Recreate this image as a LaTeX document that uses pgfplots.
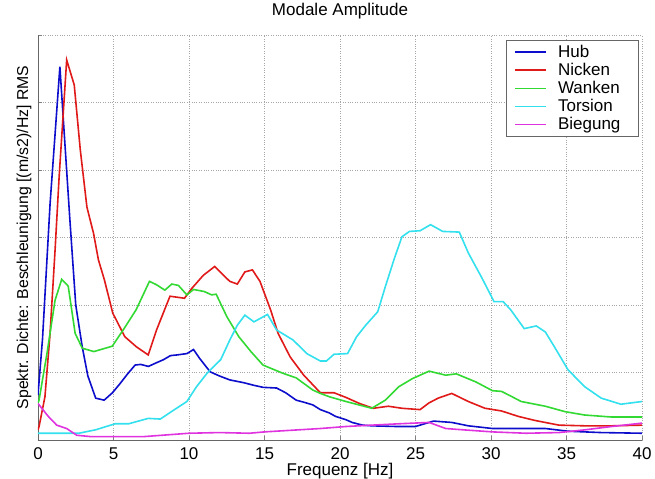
\documentclass[border=0pt]{standalone}
\usepackage{pgfplots}
\pgfplotsset{compat=1.18}
\usepackage{fontspec}
\setmainfont{Liberation Sans}
\definecolor{cHub}{rgb}{0.05,0.05,0.8}
\definecolor{cNick}{rgb}{0.88,0.1,0.1}
\definecolor{cWank}{rgb}{0.2,0.85,0.2}
\definecolor{cTors}{rgb}{0.2,0.88,0.93}
\definecolor{cBieg}{rgb}{0.88,0.2,0.88}
\begin{document}
\begin{tikzpicture}
\begin{axis}[
  scale only axis, width=604pt, height=405pt,
  xmin=0, xmax=40, ymin=0, ymax=6,
  xtick={0,5,...,40}, ytick={0,1,...,6}, yticklabels={},
  axis x line*=bottom, axis y line*=left,
  axis line style={-, draw=gray!80!black, line width=0.8pt},
  grid=major, major grid style={dotted, gray!70, line width=0.6pt},
  tick align=inside, major tick length=4pt, tick style={gray, line width=0.6pt},
  /pgf/number format/assume math mode=true,
  font=\fontsize{17}{19}\selectfont,
  xticklabel style={anchor=center, yshift=-13.5pt},
  title={Modale Amplitude},
  title style={at={(axis description cs:0.5,1)}, anchor=center, yshift=17.5pt},
  xlabel={Frequenz [Hz]},
  xlabel style={at={(axis description cs:0.5,0)}, anchor=center, yshift=-31pt},
  ylabel={Spektr. Dichte: Beschleunigung [(m/s2)/Hz] RMS},
  ylabel style={at={(axis description cs:-0.0232,0.5)}, anchor=center, font=\fontsize{15.8}{18}\selectfont},
  legend style={at={(axis description cs:1,1)}, anchor=north east, xshift=-4pt, yshift=-5pt,
    draw=gray!80!black, fill=white, inner xsep=4pt, inner ysep=3pt,
    row sep=0.3pt, font=\fontsize{17}{19}\selectfont},
  legend cell align=left,
  legend image code/.code={\draw[#1] (0pt,0pt) (4pt,0pt) -- (35pt,0pt) (44pt,0pt);},
]
\addplot[cHub, line width=1.6pt] coordinates {
(0,0.67)(0.3,1.5)(0.8,3.5)(1.45,5.53)(1.75,4.5)(2.1,3.3)(2.5,2.0)(2.93,1.38)(3.3,0.95)(3.82,0.62)(4.38,0.59)(4.93,0.70)(5.45,0.84)(5.9,0.97)(6.43,1.11)(6.8,1.12)(7.31,1.09)(7.8,1.14)(8.31,1.19)(8.77,1.25)(9.2,1.26)(9.86,1.28)(10.3,1.34)(10.7,1.21)(11.4,1.01)(12.0,0.95)(12.7,0.89)(13.6,0.85)(14.3,0.81)(14.9,0.78)(15.8,0.77)(16.4,0.70)(17.1,0.59)(17.6,0.56)(18.2,0.52)(18.7,0.45)(19.3,0.40)(19.7,0.35)(20.4,0.30)(20.8,0.26)(21.5,0.22)(22.1,0.21)(23.7,0.20)(25.0,0.20)(26.2,0.28)(27.4,0.26)(28.5,0.21)(30.1,0.17)(31.8,0.17)(33.6,0.17)(35.1,0.13)(37.3,0.11)(40,0.10)
};
\addlegendentry{Hub}
\addplot[cNick, line width=1.6pt] coordinates {
(0,0.15)(0.07,0.20)(0.46,0.64)(0.8,1.58)(1.13,2.81)(1.4,3.9)(1.9,5.63)(2.4,5.26)(2.8,4.3)(3.24,3.45)(3.68,3.06)(4.0,2.67)(4.4,2.37)(4.95,1.88)(5.75,1.53)(6.52,1.38)(7.3,1.26)(7.85,1.63)(8.74,2.13)(9.7,2.10)(10.2,2.25)(10.95,2.44)(11.7,2.57)(12.7,2.35)(13.2,2.31)(13.7,2.49)(14.2,2.52)(14.7,2.35)(15.4,1.93)(15.9,1.58)(16.7,1.23)(17.6,0.96)(18.7,0.70)(19.6,0.70)(20.4,0.63)(21.3,0.54)(22.2,0.47)(23.2,0.50)(24.1,0.47)(25.3,0.45)(25.9,0.55)(26.5,0.62)(27.4,0.69)(28.5,0.57)(29.6,0.47)(30.7,0.43)(31.8,0.35)(32.9,0.29)(34.5,0.22)(36.2,0.21)(38.0,0.21)(40,0.22)
};
\addlegendentry{Nicken}
\addplot[cWank, line width=1.6pt] coordinates {
(0,0.55)(0.07,0.59)(0.6,1.29)(1.13,2.07)(1.57,2.38)(2.0,2.28)(2.46,1.58)(2.93,1.36)(3.7,1.31)(4.92,1.39)(5.7,1.65)(6.5,1.93)(7.38,2.35)(7.85,2.30)(8.4,2.22)(8.86,2.31)(9.3,2.29)(9.86,2.15)(10.3,2.23)(11.0,2.20)(11.5,2.15)(11.8,2.16)(12.5,1.83)(13.3,1.53)(14.1,1.31)(14.9,1.11)(16.2,0.99)(17.1,0.92)(18.2,0.74)(18.7,0.69)(19.3,0.64)(20.4,0.57)(22.1,0.47)(23.0,0.59)(23.9,0.79)(24.8,0.91)(25.9,1.02)(27.0,0.96)(27.7,0.98)(29.0,0.86)(30.1,0.73)(30.7,0.72)(31.4,0.64)(32.0,0.57)(33.6,0.50)(34.9,0.42)(36.2,0.37)(38.0,0.34)(40,0.34)
};
\addlegendentry{Wanken\hspace*{12pt}}
\addplot[cTors, line width=1.6pt] coordinates {
(0,0.10)(2.7,0.10)(3.8,0.15)(5.1,0.24)(6.0,0.24)(7.3,0.32)(8.1,0.31)(8.97,0.44)(9.86,0.57)(10.5,0.79)(11.2,0.99)(12.1,1.19)(12.7,1.48)(13.2,1.70)(13.7,1.85)(14.3,1.75)(15.2,1.86)(15.8,1.63)(16.9,1.48)(17.8,1.28)(18.7,1.17)(19.1,1.17)(19.6,1.27)(20.5,1.28)(21.1,1.53)(21.7,1.70)(22.5,1.90)(23.0,2.27)(23.6,2.69)(24.1,3.01)(24.6,3.09)(25.3,3.10)(26.0,3.19)(26.8,3.09)(27.9,3.08)(28.5,2.77)(29.4,2.40)(30.2,2.05)(30.8,2.05)(31.3,1.93)(32.2,1.65)(33.0,1.69)(33.6,1.60)(34.2,1.38)(35.1,1.04)(36.2,0.79)(37.3,0.62)(38.6,0.53)(40,0.57)
};
\addlegendentry{Torsion}
\addplot[cBieg, line width=1.6pt] coordinates {
(0,0.54)(0.07,0.52)(0.68,0.35)(1.24,0.22)(1.9,0.17)(2.57,0.07)(3.5,0.05)(7.0,0.05)(10.0,0.10)(12.0,0.11)(14.0,0.10)(15.0,0.12)(18.7,0.17)(20.4,0.20)(22.1,0.22)(23.9,0.24)(25.9,0.26)(27.0,0.17)(28.2,0.15)(30.1,0.12)(32.3,0.10)(34.5,0.11)(36.2,0.15)(38.0,0.20)(40,0.25)
};
\addlegendentry{Biegung}
\end{axis}
\pgfresetboundingbox
\path[use as bounding box] ([shift={(-38pt,-39pt)}]current axis.south west) rectangle ([shift={(13pt,35pt)}]current axis.north east);
\end{tikzpicture}
\end{document}
